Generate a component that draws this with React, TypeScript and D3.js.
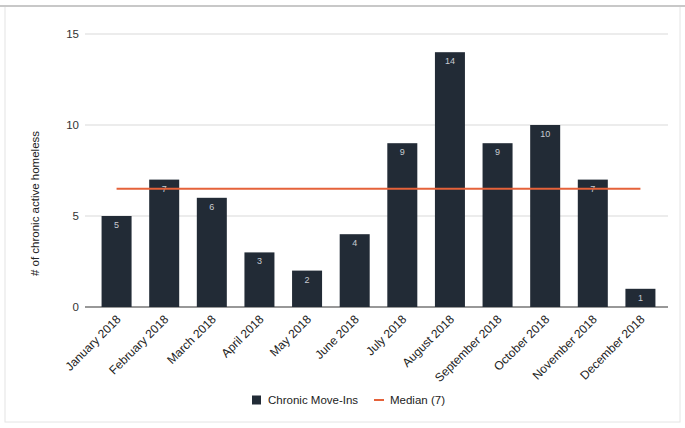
import React from "react";
import * as d3 from "d3";

const months = [
  "January 2018", "February 2018", "March 2018", "April 2018", "May 2018", "June 2018",
  "July 2018", "August 2018", "September 2018", "October 2018", "November 2018", "December 2018",
];
const moveIns = [5, 7, 6, 3, 2, 4, 9, 14, 9, 10, 7, 1];
const medianValue = 6.5;
const yTicks = [0, 5, 10, 15];
const seriesName = "Chronic Move-Ins";
const medianName = "Median (7)";
const yTitle = "# of chronic active homeless";

const W = 685, H = 428;
const BAR = "#222b36";
const MED = "#e5623a";

export default function App() {
  const x = d3.scaleBand<string>().domain(months).range([93, 664]).paddingInner(0.37).paddingOuter(0.18);
  const y = d3.scaleLinear().domain([0, 15]).range([307, 34]);
  const cx = (m: string) => (x(m) as number) + x.bandwidth() / 2;
  const font = "'Liberation Sans', Arial, sans-serif";
  return (
    <svg width={W} height={H} style={{ position: "absolute", left: 0, top: 0, background: "#fff" }} fontFamily={font}>
      <rect x={5} y={6} width={675} height={416} fill="#fff" stroke="#e4e4e4" strokeWidth={1} />
      <line x1={0} x2={W} y1={6} y2={6} stroke="#c8c8c8" strokeWidth={2} />
      {yTicks.map((t) => (
        <g key={t}>
          <line x1={85} x2={668} y1={y(t)} y2={y(t)} stroke={t === 0 ? "#333" : "#d9d9d9"} strokeWidth={t === 0 ? 1.2 : 1} />
          <text x={79} y={y(t)} dy="0.35em" textAnchor="end" fontSize={11.5} fill="#333">{t}</text>
        </g>
      ))}
      <text transform={`translate(39,${(y(0) + y(15)) / 2 + 33}) rotate(-90)`} textAnchor="middle" fontSize={11.5} fill="#222">{yTitle}</text>
      {months.map((m, i) => (
        <g key={m}>
          <rect x={x(m)} y={y(moveIns[i])} width={x.bandwidth()} height={y(0) - y(moveIns[i])} fill={BAR} />
          <text x={cx(m)} y={y(moveIns[i]) + 12} textAnchor="middle" fontSize={9} fill="#c8ccd2">{moveIns[i]}</text>
        </g>
      ))}
      <line x1={cx(months[0])} x2={cx(months[months.length - 1])} y1={y(medianValue)} y2={y(medianValue)} stroke={MED} strokeWidth={2} />
      {months.map((m) => (
        <text key={m} transform={`translate(${cx(m) + 5},${y(0) + 13}) rotate(-45)`} textAnchor="end" fontSize={12} fill="#222">{m}</text>
      ))}
      <g transform="translate(0,400)">
        <rect x={252} y={-4.5} width={9} height={9} fill={BAR} />
        <text x={268} y={0} dy="0.35em" fontSize={11.5} fill="#222">{seriesName}</text>
        <line x1={374} x2={384} y1={0} y2={0} stroke={MED} strokeWidth={2} />
        <text x={390} y={0} dy="0.35em" fontSize={11.5} fill="#222">{medianName}</text>
      </g>
    </svg>
  );
}
